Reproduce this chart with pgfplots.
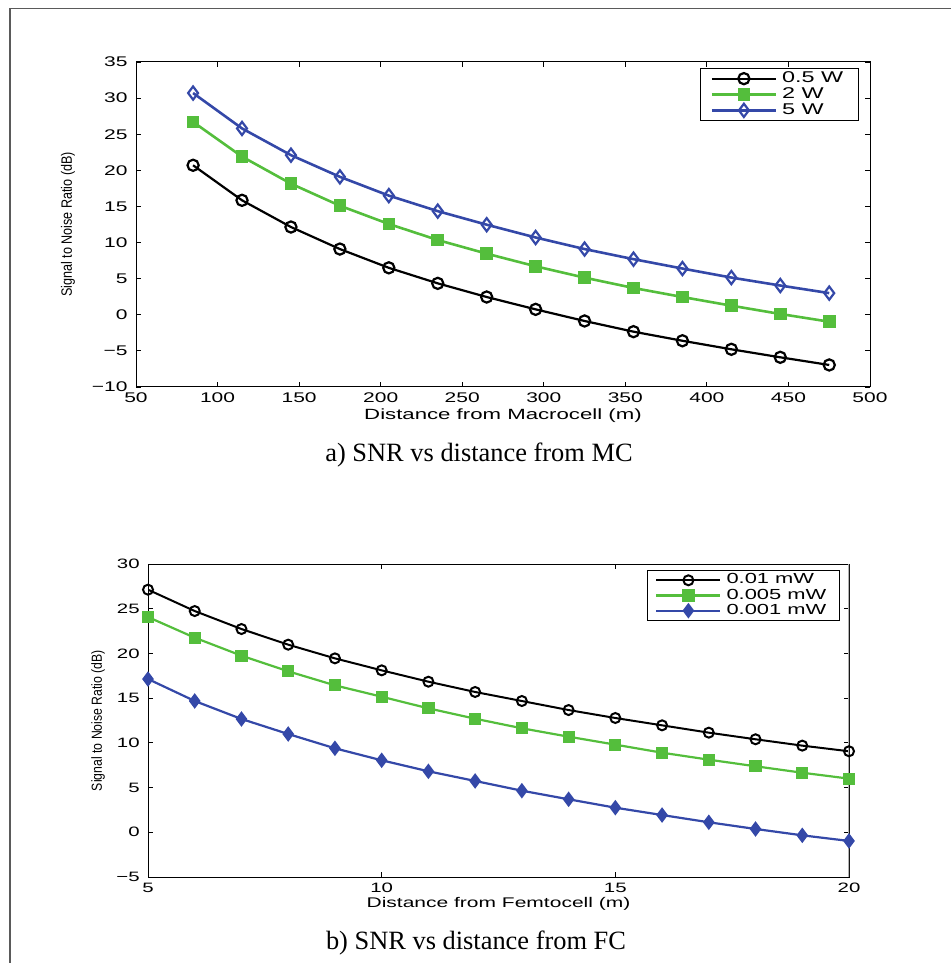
\documentclass[border=0pt]{standalone}
\usepackage{fontspec}
\setmainfont{Liberation Serif}
\newfontfamily\matfont[FakeStretch=1.5]{Liberation Sans}
\newfontfamily\ylabfont[FakeStretch=0.84]{Liberation Sans}
\usepackage{pgfplots}
\usepackage{pgfplotstable}
\pgfplotsset{compat=1.18}
\definecolor{mgreen}{RGB}{84,190,60}
\definecolor{mblue}{RGB}{52,72,168}
\definecolor{framegray}{RGB}{90,90,90}

\pgfplotstableread{
x     pa     pb     pc
85    20.7   26.7   30.7
115   15.85  21.9   25.8
145   12.15  18.15  22.1
175   9.1    15.1   19.1
205   6.5    12.57  16.5
235   4.35   10.35  14.35
265   2.46   8.46   12.47
295   0.75   6.71   10.7
325   -0.86  5.14   9.1
355   -2.34  3.71   7.7
385   -3.6   2.46   6.4
415   -4.78  1.26   5.15
445   -5.89  0.11   4.05
475   -6.95  -0.96  3.0
}\mctable

\pgfplotstableread{
x   pa     pb     pc
5   27.13  24.07  17.14
6   24.74  21.76  14.68
7   22.73  19.75  12.67
8   20.98  18.0   10.99
9   19.45  16.43  9.39
10  18.11  15.16  8.05
11  16.84  13.86  6.82
12  15.69  12.7   5.74
13  14.68  11.63  4.65
14  13.67  10.69  3.69
15  12.78  9.8    2.75
16  11.96  8.9    1.93
17  11.14  8.12   1.12
18  10.4   7.38   0.37
19  9.69   6.66   -0.34
20  9.06   6.0    -0.97
}\fctable

\pgfplotsset{
  matstyle/.style={
    scale only axis,
    /pgf/number format/assume math mode=true,
    tick align=inside,
    major tick length=2.5pt,
    axis line style={line width=0.5pt},
    every tick/.style={black, line width=0.4pt},
    xticklabel style={anchor=base, inner sep=0pt},
    yticklabel style={anchor=east, inner sep=0pt, xshift=-4pt},
    legend cell align=left,
    legend image code/.code={\draw[mark repeat=2,mark phase=2] plot coordinates {(0pt,0pt) (16pt,0pt) (32pt,0pt)};},
  }
}

\begin{document}
\begin{tikzpicture}
\useasboundingbox (0,0) rectangle (475.5pt,481.5pt);
\draw[framegray, line width=0.8pt] (5pt,-1pt) -- (5pt,477.25pt) -- (477pt,477.25pt);

% ---------- top axis ----------
\begin{axis}[matstyle,
  at={(68pt,288pt)}, anchor=south west,
  width=367pt, height=162.5pt,
  xmin=50, xmax=500, ymin=-10, ymax=35,
  xtick={50,100,...,500},
  ytick={-10,-5,0,5,10,15,20,25,30,35},
  yticklabels={−10,−5,0,5,10,15,20,25,30,35},
  tick label style={font=\matfont\fontsize{7}{8}\selectfont},
  xticklabel style={yshift=-8pt},
  xlabel={Distance from Macrocell (m)},
  xlabel style={font=\matfont\fontsize{7.4}{8}\selectfont, at={(axis description cs:0.5,0)}, anchor=base, yshift=-16.5pt},
  ylabel={Signal to Noise Ratio (dB)},
  ylabel style={font=\ylabfont\fontsize{7.5}{9}\selectfont, at={(axis description cs:-0.0926,0.5)}, anchor=center},
  legend style={at={(1,1)}, anchor=north east, xshift=-5.5pt, yshift=-3pt, draw=black, line width=0.7pt,
    font=\matfont\fontsize{7.8}{8}\selectfont, inner xsep=5pt, inner ysep=1.5pt, row sep=1pt,
    nodes={inner ysep=0pt, inner xsep=2.5pt}},
]
\addplot[black, line width=1.1pt, mark=o, mark size=2.8pt, mark options={solid, line width=1.1pt}] table[x=x,y=pa] {\mctable};
\addlegendentry{0.5 W}
\addplot[mgreen, line width=1.3pt, mark=square*, mark size=2.5pt, mark options={solid, fill=mgreen}] table[x=x,y=pb] {\mctable};
\addlegendentry{2 W}
\addplot[mblue, line width=1.3pt, mark=diamond, mark size=3.3pt, mark options={solid, line width=1.1pt}] table[x=x,y=pc] {\mctable};
\addlegendentry{5 W}
\end{axis}

\node[anchor=base, font=\fontsize{13.2}{15}\selectfont] at (239.5pt,250.5pt) {a) SNR vs distance from MC};

% ---------- bottom axis ----------
\begin{axis}[matstyle,
  at={(74pt,43pt)}, anchor=south west,
  width=350.5pt, height=156.5pt,
  xmin=5, xmax=20, ymin=-5, ymax=30,
  xtick={5,10,15,20},
  ytick={-5,0,5,10,15,20,25,30},
  yticklabels={−5,0,5,10,15,20,25,30},
  tick label style={font=\matfont\fontsize{6.8}{8}\selectfont},
  xticklabel style={yshift=-7.5pt},
  xlabel={Distance from Femtocell (m)},
  xlabel style={font=\matfont\fontsize{7}{8}\selectfont, at={(axis description cs:0.5,0)}, anchor=base, yshift=-15pt},
  ylabel={Signal to Noise Ratio (dB)},
  ylabel style={font=\ylabfont\fontsize{7.3}{9}\selectfont, at={(axis description cs:-0.0713,0.5)}, anchor=center},
  legend style={at={(1,1)}, anchor=north east, xshift=-4.5pt, yshift=-3pt, draw=black, line width=0.7pt,
    font=\matfont\fontsize{7.3}{8}\selectfont, inner xsep=4pt, inner ysep=1.5pt, row sep=1pt,
    nodes={inner ysep=0pt, inner xsep=2.5pt}},
]
\addplot[black, line width=1pt, mark=o, mark size=2.5pt, mark options={solid, line width=1pt}] table[x=x,y=pa] {\fctable};
\addlegendentry{0.01 mW}
\addplot[mgreen, line width=1.1pt, mark=square*, mark size=2.5pt, mark options={solid, fill=mgreen}] table[x=x,y=pb] {\fctable};
\addlegendentry{0.005 mW}
\addplot[mblue, line width=1.1pt, mark=diamond*, mark size=3pt, mark options={solid, fill=mblue}] table[x=x,y=pc] {\fctable};
\addlegendentry{0.001 mW}
\draw[gray!60, line width=1.2pt] (rel axis cs:1,0) -- (rel axis cs:1,1);
\end{axis}

\node[anchor=base, font=\fontsize{13.2}{15}\selectfont] at (238pt,6.75pt) {b) SNR vs distance from FC};
\end{tikzpicture}
\end{document}
